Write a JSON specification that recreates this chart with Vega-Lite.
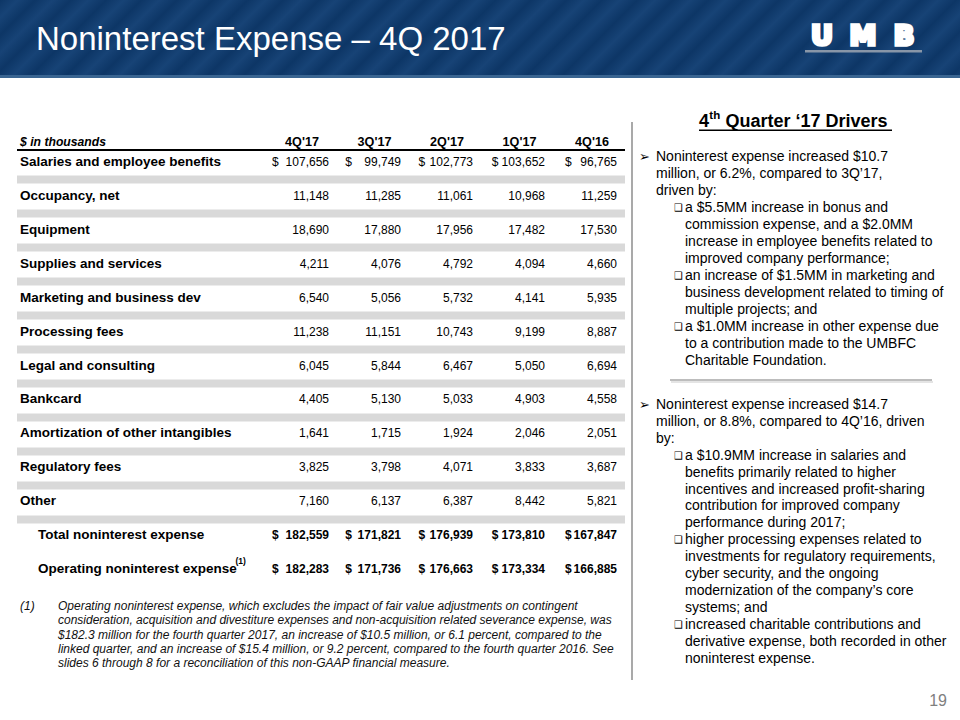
{
  "$schema": "https://vega.github.io/schema/vega-lite/v6.json",
  "width": 960,
  "height": 720,
  "autosize": {"type": "fit", "contains": "padding"},
  "padding": 0,
  "background": "white",
  "config": {"view": {"stroke": null}, "text": {"font": "Liberation Sans, Arial, DejaVu Sans"}},
  "datasets": {
    "table": [
      {"item": "Salaries and employee benefits", "level": "line", "dollar": true, "quarter": "4Q'17", "value": 107656},
      {"item": "Salaries and employee benefits", "level": "line", "dollar": true, "quarter": "3Q'17", "value": 99749},
      {"item": "Salaries and employee benefits", "level": "line", "dollar": true, "quarter": "2Q'17", "value": 102773},
      {"item": "Salaries and employee benefits", "level": "line", "dollar": true, "quarter": "1Q'17", "value": 103652},
      {"item": "Salaries and employee benefits", "level": "line", "dollar": true, "quarter": "4Q'16", "value": 96765},
      {"item": "Occupancy, net", "level": "line", "quarter": "4Q'17", "value": 11148},
      {"item": "Occupancy, net", "level": "line", "quarter": "3Q'17", "value": 11285},
      {"item": "Occupancy, net", "level": "line", "quarter": "2Q'17", "value": 11061},
      {"item": "Occupancy, net", "level": "line", "quarter": "1Q'17", "value": 10968},
      {"item": "Occupancy, net", "level": "line", "quarter": "4Q'16", "value": 11259},
      {"item": "Equipment", "level": "line", "quarter": "4Q'17", "value": 18690},
      {"item": "Equipment", "level": "line", "quarter": "3Q'17", "value": 17880},
      {"item": "Equipment", "level": "line", "quarter": "2Q'17", "value": 17956},
      {"item": "Equipment", "level": "line", "quarter": "1Q'17", "value": 17482},
      {"item": "Equipment", "level": "line", "quarter": "4Q'16", "value": 17530},
      {"item": "Supplies and services", "level": "line", "quarter": "4Q'17", "value": 4211},
      {"item": "Supplies and services", "level": "line", "quarter": "3Q'17", "value": 4076},
      {"item": "Supplies and services", "level": "line", "quarter": "2Q'17", "value": 4792},
      {"item": "Supplies and services", "level": "line", "quarter": "1Q'17", "value": 4094},
      {"item": "Supplies and services", "level": "line", "quarter": "4Q'16", "value": 4660},
      {"item": "Marketing and business dev", "level": "line", "quarter": "4Q'17", "value": 6540},
      {"item": "Marketing and business dev", "level": "line", "quarter": "3Q'17", "value": 5056},
      {"item": "Marketing and business dev", "level": "line", "quarter": "2Q'17", "value": 5732},
      {"item": "Marketing and business dev", "level": "line", "quarter": "1Q'17", "value": 4141},
      {"item": "Marketing and business dev", "level": "line", "quarter": "4Q'16", "value": 5935},
      {"item": "Processing fees", "level": "line", "quarter": "4Q'17", "value": 11238},
      {"item": "Processing fees", "level": "line", "quarter": "3Q'17", "value": 11151},
      {"item": "Processing fees", "level": "line", "quarter": "2Q'17", "value": 10743},
      {"item": "Processing fees", "level": "line", "quarter": "1Q'17", "value": 9199},
      {"item": "Processing fees", "level": "line", "quarter": "4Q'16", "value": 8887},
      {"item": "Legal and consulting", "level": "line", "quarter": "4Q'17", "value": 6045},
      {"item": "Legal and consulting", "level": "line", "quarter": "3Q'17", "value": 5844},
      {"item": "Legal and consulting", "level": "line", "quarter": "2Q'17", "value": 6467},
      {"item": "Legal and consulting", "level": "line", "quarter": "1Q'17", "value": 5050},
      {"item": "Legal and consulting", "level": "line", "quarter": "4Q'16", "value": 6694},
      {"item": "Bankcard", "level": "line", "quarter": "4Q'17", "value": 4405},
      {"item": "Bankcard", "level": "line", "quarter": "3Q'17", "value": 5130},
      {"item": "Bankcard", "level": "line", "quarter": "2Q'17", "value": 5033},
      {"item": "Bankcard", "level": "line", "quarter": "1Q'17", "value": 4903},
      {"item": "Bankcard", "level": "line", "quarter": "4Q'16", "value": 4558},
      {"item": "Amortization of other intangibles", "level": "line", "quarter": "4Q'17", "value": 1641},
      {"item": "Amortization of other intangibles", "level": "line", "quarter": "3Q'17", "value": 1715},
      {"item": "Amortization of other intangibles", "level": "line", "quarter": "2Q'17", "value": 1924},
      {"item": "Amortization of other intangibles", "level": "line", "quarter": "1Q'17", "value": 2046},
      {"item": "Amortization of other intangibles", "level": "line", "quarter": "4Q'16", "value": 2051},
      {"item": "Regulatory fees", "level": "line", "quarter": "4Q'17", "value": 3825},
      {"item": "Regulatory fees", "level": "line", "quarter": "3Q'17", "value": 3798},
      {"item": "Regulatory fees", "level": "line", "quarter": "2Q'17", "value": 4071},
      {"item": "Regulatory fees", "level": "line", "quarter": "1Q'17", "value": 3833},
      {"item": "Regulatory fees", "level": "line", "quarter": "4Q'16", "value": 3687},
      {"item": "Other", "level": "line", "quarter": "4Q'17", "value": 7160},
      {"item": "Other", "level": "line", "quarter": "3Q'17", "value": 6137},
      {"item": "Other", "level": "line", "quarter": "2Q'17", "value": 6387},
      {"item": "Other", "level": "line", "quarter": "1Q'17", "value": 8442},
      {"item": "Other", "level": "line", "quarter": "4Q'16", "value": 5821},
      {"item": "Total noninterest expense", "level": "total", "dollar": true, "quarter": "4Q'17", "value": 182559},
      {"item": "Total noninterest expense", "level": "total", "dollar": true, "quarter": "3Q'17", "value": 171821},
      {"item": "Total noninterest expense", "level": "total", "dollar": true, "quarter": "2Q'17", "value": 176939},
      {"item": "Total noninterest expense", "level": "total", "dollar": true, "quarter": "1Q'17", "value": 173810},
      {"item": "Total noninterest expense", "level": "total", "dollar": true, "quarter": "4Q'16", "value": 167847},
      {"item": "Operating noninterest expense", "level": "total", "dollar": true, "quarter": "4Q'17", "value": 182283},
      {"item": "Operating noninterest expense", "level": "total", "dollar": true, "quarter": "3Q'17", "value": 171736},
      {"item": "Operating noninterest expense", "level": "total", "dollar": true, "quarter": "2Q'17", "value": 176663},
      {"item": "Operating noninterest expense", "level": "total", "dollar": true, "quarter": "1Q'17", "value": 173334},
      {"item": "Operating noninterest expense", "level": "total", "dollar": true, "quarter": "4Q'16", "value": 166885}
    ],
    "footnote": [
      {"part": "footnote", "line": 1, "text": "Operating noninterest expense, which excludes the impact of fair value adjustments on contingent"},
      {"part": "footnote", "line": 2, "text": "consideration, acquisition and divestiture expenses and non-acquisition related severance expense, was"},
      {"part": "footnote", "line": 3, "text": "$182.3 million for the fourth quarter 2017, an increase of $10.5 million, or 6.1 percent, compared to the"},
      {"part": "footnote", "line": 4, "text": "linked quarter, and an increase of $15.4 million, or 9.2 percent, compared to the fourth quarter 2016. See"},
      {"part": "footnote", "line": 5, "text": "slides 6 through 8 for a reconciliation of this non-GAAP financial measure."}
    ],
    "drivers": [
      {"block": 1, "line": 1, "kind": "main", "start": true, "text": "Noninterest expense increased $10.7"},
      {"block": 1, "line": 2, "kind": "main", "text": "million, or 6.2%, compared to 3Q’17,"},
      {"block": 1, "line": 3, "kind": "main", "text": "driven by:"},
      {"block": 1, "line": 4, "kind": "sub", "start": true, "text": "a $5.5MM increase in bonus and"},
      {"block": 1, "line": 5, "kind": "sub", "text": "commission expense, and a $2.0MM"},
      {"block": 1, "line": 6, "kind": "sub", "text": "increase in employee benefits related to"},
      {"block": 1, "line": 7, "kind": "sub", "text": "improved company performance;"},
      {"block": 1, "line": 8, "kind": "sub", "start": true, "text": "an increase of $1.5MM in marketing and"},
      {"block": 1, "line": 9, "kind": "sub", "text": "business development related to timing of"},
      {"block": 1, "line": 10, "kind": "sub", "text": "multiple projects; and"},
      {"block": 1, "line": 11, "kind": "sub", "start": true, "text": "a $1.0MM increase in other expense due"},
      {"block": 1, "line": 12, "kind": "sub", "text": "to a contribution made to the UMBFC"},
      {"block": 1, "line": 13, "kind": "sub", "text": "Charitable Foundation."},
      {"block": 2, "line": 1, "kind": "main", "start": true, "text": "Noninterest expense increased $14.7"},
      {"block": 2, "line": 2, "kind": "main", "text": "million, or 8.8%, compared to 4Q’16, driven"},
      {"block": 2, "line": 3, "kind": "main", "text": "by:"},
      {"block": 2, "line": 4, "kind": "sub", "start": true, "text": "a $10.9MM increase in salaries and"},
      {"block": 2, "line": 5, "kind": "sub", "text": "benefits primarily related to higher"},
      {"block": 2, "line": 6, "kind": "sub", "text": "incentives and increased profit-sharing"},
      {"block": 2, "line": 7, "kind": "sub", "text": "contribution for improved company"},
      {"block": 2, "line": 8, "kind": "sub", "text": "performance during 2017;"},
      {"block": 2, "line": 9, "kind": "sub", "start": true, "text": "higher processing expenses related to"},
      {"block": 2, "line": 10, "kind": "sub", "text": "investments for regulatory requirements,"},
      {"block": 2, "line": 11, "kind": "sub", "text": "cyber security, and the ongoing"},
      {"block": 2, "line": 12, "kind": "sub", "text": "modernization of the company’s core"},
      {"block": 2, "line": 13, "kind": "sub", "text": "systems; and"},
      {"block": 2, "line": 14, "kind": "sub", "start": true, "text": "increased charitable contributions and"},
      {"block": 2, "line": 15, "kind": "sub", "text": "derivative expense, both recorded in other"},
      {"block": 2, "line": 16, "kind": "sub", "text": "noninterest expense."}
    ]
  },
  "resolve": {"scale": {"x": "independent", "y": "independent", "size": "independent", "color": "independent"}},
  "layer": [
    {
      "data": {"values": [{"part": "banner"}]},
      "mark": {"type": "rect", "fill": {"gradient": "linear", "x1": 0, "y1": 0, "x2": 1.1, "y2": 0.0859, "stops": [
        {"offset": 0, "color": "#0d3666"}, {"offset": 0.0167, "color": "#174376"}, {"offset": 0.0333, "color": "#0d3666"}, {"offset": 0.05, "color": "#174376"}, {"offset": 0.0667, "color": "#0d3666"}, {"offset": 0.0833, "color": "#174376"}, {"offset": 0.1, "color": "#0d3666"}, {"offset": 0.1167, "color": "#174376"}, {"offset": 0.1333, "color": "#0d3666"}, {"offset": 0.15, "color": "#174376"}, {"offset": 0.1667, "color": "#0d3666"}, {"offset": 0.1833, "color": "#174376"}, {"offset": 0.2, "color": "#0d3666"}, {"offset": 0.2167, "color": "#174376"}, {"offset": 0.2333, "color": "#0d3666"}, {"offset": 0.25, "color": "#174376"}, {"offset": 0.2667, "color": "#0d3666"}, {"offset": 0.2833, "color": "#174376"}, {"offset": 0.3, "color": "#0d3666"}, {"offset": 0.3167, "color": "#174376"}, {"offset": 0.3333, "color": "#0d3666"}, {"offset": 0.35, "color": "#174376"}, {"offset": 0.3667, "color": "#0d3666"}, {"offset": 0.3833, "color": "#174376"}, {"offset": 0.4, "color": "#0d3666"}, {"offset": 0.4167, "color": "#174376"}, {"offset": 0.4333, "color": "#0d3666"}, {"offset": 0.45, "color": "#174376"}, {"offset": 0.4667, "color": "#0d3666"}, {"offset": 0.4833, "color": "#174376"}, {"offset": 0.5, "color": "#0d3666"}, {"offset": 0.5167, "color": "#174376"}, {"offset": 0.5333, "color": "#0d3666"}, {"offset": 0.55, "color": "#174376"}, {"offset": 0.5667, "color": "#0d3666"}, {"offset": 0.5833, "color": "#174376"}, {"offset": 0.6, "color": "#0d3666"}, {"offset": 0.6167, "color": "#174376"}, {"offset": 0.6333, "color": "#0d3666"}, {"offset": 0.65, "color": "#174376"}, {"offset": 0.6667, "color": "#0d3666"}, {"offset": 0.6833, "color": "#174376"}, {"offset": 0.7, "color": "#0d3666"}, {"offset": 0.7167, "color": "#174376"}, {"offset": 0.7333, "color": "#0d3666"}, {"offset": 0.75, "color": "#174376"}, {"offset": 0.7667, "color": "#0d3666"}, {"offset": 0.7833, "color": "#174376"}, {"offset": 0.8, "color": "#0d3666"}, {"offset": 0.8167, "color": "#174376"}, {"offset": 0.8333, "color": "#0d3666"}, {"offset": 0.85, "color": "#174376"}, {"offset": 0.8667, "color": "#0d3666"}, {"offset": 0.8833, "color": "#174376"}, {"offset": 0.9, "color": "#0d3666"}, {"offset": 0.9167, "color": "#174376"}, {"offset": 0.9333, "color": "#0d3666"}, {"offset": 0.95, "color": "#174376"}, {"offset": 0.9667, "color": "#0d3666"}, {"offset": 0.9833, "color": "#174376"}, {"offset": 1, "color": "#0d3666"}]}},
      "encoding": {
        "x": {"field": "part", "type": "nominal", "axis": null, "scale": {"type": "band", "domain": ["banner"], "range": [0, 960], "paddingInner": 0, "paddingOuter": 0}},
        "y": {"field": "part", "type": "nominal", "axis": null, "scale": {"type": "band", "domain": ["banner"], "range": [0, 75], "paddingInner": 0, "paddingOuter": 0}}
      }
    },
    {
      "data": {"values": [{"part": "edge"}]},
      "mark": {"type": "rect", "color": "#3a6591"},
      "encoding": {
        "x": {"field": "part", "type": "nominal", "axis": null, "scale": {"type": "band", "domain": ["edge"], "range": [0, 960], "paddingInner": 0, "paddingOuter": 0}},
        "y": {"field": "part", "type": "nominal", "axis": null, "scale": {"type": "band", "domain": ["edge"], "range": [75, 78], "paddingInner": 0, "paddingOuter": 0}}
      }
    },
    {
      "data": {"values": [{"title": "Noninterest Expense – 4Q 2017"}]},
      "mark": {"type": "text", "align": "left", "baseline": "middle", "fontSize": 33, "color": "white"},
      "encoding": {
        "text": {"field": "title"},
        "x": {"field": "title", "type": "nominal", "axis": null, "scale": {"type": "point", "range": [36, 36]}},
        "y": {"field": "title", "type": "nominal", "axis": null, "scale": {"type": "point", "range": [40, 40]}}
      }
    },
    {
      "data": {"values": [{"letter": "U"}, {"letter": "M"}, {"letter": "B"}]},
      "mark": {"type": "text", "align": "center", "baseline": "middle", "fontSize": 27, "fontWeight": "bold", "font": "DejaVu Sans", "color": "white", "stroke": "white", "strokeWidth": 3.5, "strokeJoin": "miter"},
      "encoding": {
        "text": {"field": "letter"},
        "x": {"field": "letter", "type": "nominal", "axis": null, "scale": {"type": "point", "domain": ["U", "M", "B"], "range": [822, 904], "padding": 0}},
        "y": {"field": "letter", "type": "nominal", "axis": null, "scale": {"type": "point", "range": [37, 37]}}
      }
    },
    {
      "data": {"values": [{"part": "logo"}]},
      "mark": {"type": "rect", "color": "#8896a8"},
      "encoding": {
        "x": {"field": "part", "type": "nominal", "axis": null, "scale": {"type": "band", "domain": ["logo"], "range": [805, 922], "paddingInner": 0, "paddingOuter": 0}},
        "y": {"field": "part", "type": "nominal", "axis": null, "scale": {"type": "band", "domain": ["logo"], "range": [50, 52.5], "paddingInner": 0, "paddingOuter": 0}}
      }
    },
    {
      "data": {"values": [{"caption": "$ in thousands"}]},
      "mark": {"type": "text", "align": "left", "baseline": "middle", "fontSize": 12.2, "fontWeight": "bold", "fontStyle": "italic", "color": "black"},
      "encoding": {
        "text": {"field": "caption"},
        "x": {"field": "caption", "type": "nominal", "axis": null, "scale": {"type": "point", "range": [20, 20]}},
        "y": {"field": "caption", "type": "nominal", "axis": null, "scale": {"type": "point", "range": [141.5, 141.5]}}
      }
    },
    {
      "data": {"values": [{"part": "header"}]},
      "mark": {"type": "rect", "color": "black"},
      "encoding": {
        "x": {"field": "part", "type": "nominal", "axis": null, "scale": {"type": "band", "domain": ["header"], "range": [17, 625], "paddingInner": 0, "paddingOuter": 0}},
        "y": {"field": "part", "type": "nominal", "axis": null, "scale": {"type": "band", "domain": ["header"], "range": [149, 151], "paddingInner": 0, "paddingOuter": 0}}
      }
    },
    {
      "data": {"name": "table"},
      "transform": [{"filter": "datum.item === 'Salaries and employee benefits'"}],
      "mark": {"type": "text", "align": "center", "baseline": "middle", "fontSize": 12.6, "fontWeight": "bold", "color": "black"},
      "encoding": {
        "text": {"field": "quarter"},
        "x": {"field": "quarter", "type": "nominal", "axis": null, "scale": {"type": "point", "domain": ["4Q'17", "3Q'17", "2Q'17", "1Q'17", "4Q'16"], "range": [302, 592], "padding": 0}},
        "y": {"field": "quarter", "type": "nominal", "axis": null, "scale": {"type": "point", "range": [141.5, 141.5]}}
      }
    },
    {
      "data": {"name": "table"},
      "transform": [{"filter": "datum.quarter === \"4Q'17\" && datum.level === 'line'"}],
      "mark": {"type": "rect", "color": "#d9d9d9"},
      "encoding": {
        "x": {"field": "level", "type": "nominal", "axis": null, "scale": {"type": "band", "domain": ["line"], "range": [17, 625], "paddingInner": 0, "paddingOuter": 0}},
        "y": {"field": "item", "type": "nominal", "sort": null, "axis": null, "scale": {"type": "band", "range": [175.5, 523.5], "paddingInner": 0.7647, "paddingOuter": 0}}
      }
    },
    {
      "data": {"name": "table"},
      "transform": [{"filter": "datum.quarter === \"4Q'17\""}],
      "mark": {"type": "text", "align": "left", "baseline": "middle", "fontSize": 13.5, "fontWeight": "bold", "color": "black"},
      "encoding": {
        "text": {"field": "item"},
        "x": {"field": "level", "type": "nominal", "axis": null, "scale": {"type": "point", "domain": ["line", "total"], "range": [20, 38], "padding": 0}},
        "y": {"field": "item", "type": "nominal", "sort": null, "axis": null, "scale": {"type": "point", "range": [162, 569], "padding": 0}}
      }
    },
    {
      "data": {"values": [{"note": "(1)"}]},
      "mark": {"type": "text", "align": "left", "baseline": "middle", "fontSize": 8.5, "fontWeight": "bold", "color": "black"},
      "encoding": {
        "text": {"field": "note"},
        "x": {"field": "note", "type": "nominal", "axis": null, "scale": {"type": "point", "range": [235.5, 235.5]}},
        "y": {"field": "note", "type": "nominal", "axis": null, "scale": {"type": "point", "range": [561, 561]}}
      }
    },
    {
      "data": {"name": "table"},
      "transform": [{"filter": "datum.level === 'line'"}],
      "mark": {"type": "text", "align": "right", "baseline": "middle", "fontSize": 12, "color": "black"},
      "encoding": {
        "text": {"field": "value", "type": "quantitative", "format": ","},
        "x": {"field": "quarter", "type": "nominal", "axis": null, "scale": {"type": "point", "domain": ["4Q'17", "3Q'17", "2Q'17", "1Q'17", "4Q'16"], "range": [329, 617], "padding": 0}},
        "y": {"field": "item", "type": "nominal", "axis": null, "scale": {"type": "point", "domain": ["Salaries and employee benefits", "Occupancy, net", "Equipment", "Supplies and services", "Marketing and business dev", "Processing fees", "Legal and consulting", "Bankcard", "Amortization of other intangibles", "Regulatory fees", "Other", "Total noninterest expense", "Operating noninterest expense"], "range": [162, 569], "padding": 0}}
      }
    },
    {
      "data": {"name": "table"},
      "transform": [{"filter": "datum.level === 'total'"}],
      "mark": {"type": "text", "align": "right", "baseline": "middle", "fontSize": 12, "fontWeight": "bold", "color": "black"},
      "encoding": {
        "text": {"field": "value", "type": "quantitative", "format": ","},
        "x": {"field": "quarter", "type": "nominal", "axis": null, "scale": {"type": "point", "domain": ["4Q'17", "3Q'17", "2Q'17", "1Q'17", "4Q'16"], "range": [329, 617], "padding": 0}},
        "y": {"field": "item", "type": "nominal", "axis": null, "scale": {"type": "point", "domain": ["Salaries and employee benefits", "Occupancy, net", "Equipment", "Supplies and services", "Marketing and business dev", "Processing fees", "Legal and consulting", "Bankcard", "Amortization of other intangibles", "Regulatory fees", "Other", "Total noninterest expense", "Operating noninterest expense"], "range": [162, 569], "padding": 0}}
      }
    },
    {
      "data": {"name": "table"},
      "transform": [{"filter": "datum.dollar === true && datum.level === 'line'"}],
      "mark": {"type": "text", "align": "left", "baseline": "middle", "fontSize": 12, "color": "black", "text": "$"},
      "encoding": {
        "x": {"field": "quarter", "type": "nominal", "axis": null, "scale": {"type": "point", "domain": ["4Q'17", "3Q'17", "2Q'17", "1Q'17", "4Q'16"], "range": [272, 565], "padding": 0}},
        "y": {"field": "item", "type": "nominal", "axis": null, "scale": {"type": "point", "domain": ["Salaries and employee benefits", "Occupancy, net", "Equipment", "Supplies and services", "Marketing and business dev", "Processing fees", "Legal and consulting", "Bankcard", "Amortization of other intangibles", "Regulatory fees", "Other", "Total noninterest expense", "Operating noninterest expense"], "range": [162, 569], "padding": 0}}
      }
    },
    {
      "data": {"name": "table"},
      "transform": [{"filter": "datum.dollar === true && datum.level === 'total'"}],
      "mark": {"type": "text", "align": "left", "baseline": "middle", "fontSize": 12, "fontWeight": "bold", "color": "black", "text": "$"},
      "encoding": {
        "x": {"field": "quarter", "type": "nominal", "axis": null, "scale": {"type": "point", "domain": ["4Q'17", "3Q'17", "2Q'17", "1Q'17", "4Q'16"], "range": [272, 565], "padding": 0}},
        "y": {"field": "item", "type": "nominal", "axis": null, "scale": {"type": "point", "domain": ["Salaries and employee benefits", "Occupancy, net", "Equipment", "Supplies and services", "Marketing and business dev", "Processing fees", "Legal and consulting", "Bankcard", "Amortization of other intangibles", "Regulatory fees", "Other", "Total noninterest expense", "Operating noninterest expense"], "range": [162, 569], "padding": 0}}
      }
    },
    {
      "data": {"values": [{"marker": "(1)"}]},
      "mark": {"type": "text", "align": "left", "baseline": "middle", "fontSize": 12, "fontStyle": "italic", "color": "#111111"},
      "encoding": {
        "text": {"field": "marker"},
        "x": {"field": "marker", "type": "nominal", "axis": null, "scale": {"type": "point", "range": [20, 20]}},
        "y": {"field": "marker", "type": "nominal", "axis": null, "scale": {"type": "point", "range": [606, 606]}}
      }
    },
    {
      "data": {"name": "footnote"},
      "mark": {"type": "text", "align": "left", "baseline": "middle", "fontSize": 12, "fontStyle": "italic", "color": "#111111"},
      "encoding": {
        "text": {"field": "text"},
        "x": {"field": "part", "type": "nominal", "axis": null, "scale": {"type": "point", "range": [58, 58]}},
        "y": {"field": "line", "type": "ordinal", "axis": null, "scale": {"type": "point", "range": [606, 663], "padding": 0}}
      }
    },
    {
      "data": {"values": [{"part": "divider"}]},
      "mark": {"type": "rect", "color": "#a9a9a9"},
      "encoding": {
        "x": {"field": "part", "type": "nominal", "axis": null, "scale": {"type": "band", "domain": ["divider"], "range": [631, 633], "paddingInner": 0, "paddingOuter": 0}},
        "y": {"field": "part", "type": "nominal", "axis": null, "scale": {"type": "band", "domain": ["divider"], "range": [122, 680], "paddingInner": 0, "paddingOuter": 0}}
      }
    },
    {
      "data": {"values": [{"part": "rule"}]},
      "mark": {"type": "rect", "color": "#bdbdbd"},
      "encoding": {
        "x": {"field": "part", "type": "nominal", "axis": null, "scale": {"type": "band", "domain": ["rule"], "range": [670, 932], "paddingInner": 0, "paddingOuter": 0}},
        "y": {"field": "part", "type": "nominal", "axis": null, "scale": {"type": "band", "domain": ["rule"], "range": [379, 381], "paddingInner": 0, "paddingOuter": 0}}
      }
    },
    {
      "data": {"values": [{"part": "shadow"}]},
      "mark": {"type": "rect", "color": "#e4e4e4"},
      "encoding": {
        "x": {"field": "part", "type": "nominal", "axis": null, "scale": {"type": "band", "domain": ["shadow"], "range": [671, 933], "paddingInner": 0, "paddingOuter": 0}},
        "y": {"field": "part", "type": "nominal", "axis": null, "scale": {"type": "band", "domain": ["shadow"], "range": [381, 383], "paddingInner": 0, "paddingOuter": 0}}
      }
    },
    {
      "data": {"values": [{"part": "4"}]},
      "mark": {"type": "text", "align": "left", "baseline": "middle", "fontSize": 18, "fontWeight": "bold", "color": "black"},
      "encoding": {
        "text": {"field": "part"},
        "x": {"field": "part", "type": "nominal", "axis": null, "scale": {"type": "point", "range": [699, 699]}},
        "y": {"field": "part", "type": "nominal", "axis": null, "scale": {"type": "point", "range": [121.5, 121.5]}}
      }
    },
    {
      "data": {"values": [{"part": "th"}]},
      "mark": {"type": "text", "align": "left", "baseline": "middle", "fontSize": 11.5, "fontWeight": "bold", "color": "black"},
      "encoding": {
        "text": {"field": "part"},
        "x": {"field": "part", "type": "nominal", "axis": null, "scale": {"type": "point", "range": [709.3, 709.3]}},
        "y": {"field": "part", "type": "nominal", "axis": null, "scale": {"type": "point", "range": [115.5, 115.5]}}
      }
    },
    {
      "data": {"values": [{"part": "Quarter ‘17 Drivers"}]},
      "mark": {"type": "text", "align": "left", "baseline": "middle", "fontSize": 18, "fontWeight": "bold", "color": "black"},
      "encoding": {
        "text": {"field": "part"},
        "x": {"field": "part", "type": "nominal", "axis": null, "scale": {"type": "point", "range": [725.5, 725.5]}},
        "y": {"field": "part", "type": "nominal", "axis": null, "scale": {"type": "point", "range": [121.5, 121.5]}}
      }
    },
    {
      "data": {"values": [{"part": "underline"}]},
      "mark": {"type": "rect", "color": "black"},
      "encoding": {
        "x": {"field": "part", "type": "nominal", "axis": null, "scale": {"type": "band", "domain": ["underline"], "range": [699, 892], "paddingInner": 0, "paddingOuter": 0}},
        "y": {"field": "part", "type": "nominal", "axis": null, "scale": {"type": "band", "domain": ["underline"], "range": [129.5, 131], "paddingInner": 0, "paddingOuter": 0}}
      }
    },
    {
      "data": {"name": "drivers"},
      "transform": [{"filter": "datum.block === 1"}],
      "mark": {"type": "text", "align": "left", "baseline": "middle", "fontSize": 14, "color": "black"},
      "encoding": {
        "text": {"field": "text"},
        "x": {"field": "kind", "type": "nominal", "axis": null, "scale": {"type": "point", "domain": ["main", "sub"], "range": [656, 685], "padding": 0}},
        "y": {"field": "line", "type": "ordinal", "axis": null, "scale": {"type": "point", "domain": [1, 2, 3, 4, 5, 6, 7, 8, 9, 10, 11, 12, 13], "range": [157, 361], "padding": 0}}
      }
    },
    {
      "data": {"name": "drivers"},
      "transform": [{"filter": "datum.block === 1 && datum.start === true"}],
      "mark": {"type": "text", "align": "left", "baseline": "middle", "color": "black", "font": "DejaVu Sans"},
      "encoding": {
        "text": {"condition": {"test": "datum.kind === 'main'", "value": "➢"}, "value": "❑"},
        "size": {"condition": {"test": "datum.kind === 'main'", "value": 13}, "value": 10},
        "x": {"field": "kind", "type": "nominal", "axis": null, "scale": {"type": "point", "domain": ["main", "sub"], "range": [639, 674], "padding": 0}},
        "y": {"field": "line", "type": "ordinal", "axis": null, "scale": {"type": "point", "domain": [1, 2, 3, 4, 5, 6, 7, 8, 9, 10, 11, 12, 13], "range": [157, 361], "padding": 0}}
      }
    },
    {
      "data": {"name": "drivers"},
      "transform": [{"filter": "datum.block === 2"}],
      "mark": {"type": "text", "align": "left", "baseline": "middle", "fontSize": 14, "color": "black"},
      "encoding": {
        "text": {"field": "text"},
        "x": {"field": "kind", "type": "nominal", "axis": null, "scale": {"type": "point", "domain": ["main", "sub"], "range": [656, 685], "padding": 0}},
        "y": {"field": "line", "type": "ordinal", "axis": null, "scale": {"type": "point", "domain": [1, 2, 3, 4, 5, 6, 7, 8, 9, 10, 11, 12, 13, 14, 15, 16], "range": [405, 658.5], "padding": 0}}
      }
    },
    {
      "data": {"name": "drivers"},
      "transform": [{"filter": "datum.block === 2 && datum.start === true"}],
      "mark": {"type": "text", "align": "left", "baseline": "middle", "color": "black", "font": "DejaVu Sans"},
      "encoding": {
        "text": {"condition": {"test": "datum.kind === 'main'", "value": "➢"}, "value": "❑"},
        "size": {"condition": {"test": "datum.kind === 'main'", "value": 13}, "value": 10},
        "x": {"field": "kind", "type": "nominal", "axis": null, "scale": {"type": "point", "domain": ["main", "sub"], "range": [639, 674], "padding": 0}},
        "y": {"field": "line", "type": "ordinal", "axis": null, "scale": {"type": "point", "domain": [1, 2, 3, 4, 5, 6, 7, 8, 9, 10, 11, 12, 13, 14, 15, 16], "range": [405, 658.5], "padding": 0}}
      }
    },
    {
      "data": {"values": [{"page": "19"}]},
      "mark": {"type": "text", "align": "right", "baseline": "middle", "fontSize": 16, "color": "#7f7f7f"},
      "encoding": {
        "text": {"field": "page"},
        "x": {"field": "page", "type": "nominal", "axis": null, "scale": {"type": "point", "range": [947, 947]}},
        "y": {"field": "page", "type": "nominal", "axis": null, "scale": {"type": "point", "range": [701, 701]}}
      }
    }
  ]
}
